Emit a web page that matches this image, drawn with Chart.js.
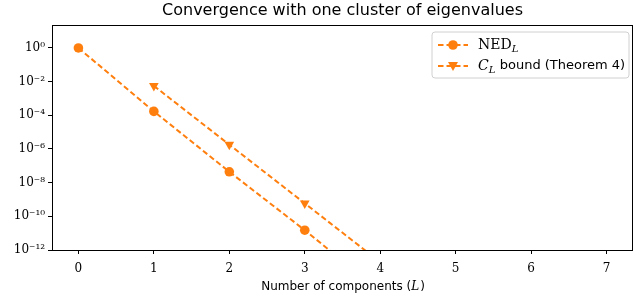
<!DOCTYPE html>
<html>
<head>
<meta charset="utf-8">
<script src="https://cdn.jsdelivr.net/npm/chart.js@4"></script>
<style>
  body { margin: 0; background: #fff; }
  #wrap { width: 633px; height: 301px; }
</style>
</head>
<body>
<div id="wrap"><canvas id="chart" width="633" height="301"></canvas></div>
<script>
// data (the point at L=4 lies below the plot, only its line shows)
const components = [0, 1, 2, 3, 4];
const nedValues = [1.0, 1.7e-4, 4.4e-8, 1.5e-11, 3.5e-15];
const boundL = [1, 2, 3, 4];
const boundValues = [5.6e-3, 1.8e-6, 5.9e-10, 1.9e-13];
const xTicks = [0, 1, 2, 3, 4, 5, 6, 7];
const yExponents = [0, -2, -4, -6, -8, -10, -12];

const orange = '#ff7f0e';
const dash = [5.5, 3];
const sup = { '0': '⁰', '1': '¹', '2': '²', '4': '⁴', '6': '⁶', '8': '⁸', '-': '⁻' };
function powLabel(e) {
  return '10' + String(e).split('').map(c => sup[c]).join('');
}

const nedPoints = components.map((x, i) => ({ x: x, y: nedValues[i] }));
const boundPoints = boundL.map((x, i) => ({ x: x, y: boundValues[i] }));

// frame, title, x label and legend drawn like matplotlib
const decor = {
  id: 'decor',
  afterDraw(chart) {
    const c = chart.ctx;
    const a = chart.chartArea;
    c.save();
    c.strokeStyle = '#000';
    c.lineWidth = 1;
    c.strokeRect(Math.round(a.left) + 0.5, Math.round(a.top) + 0.5,
      Math.round(a.right - a.left) - 1, Math.round(a.bottom - a.top));

    const mid = (a.left + a.right) / 2;
    c.fillStyle = '#000';
    c.font = '16px "DejaVu Sans"';
    c.textAlign = 'center';
    c.textBaseline = 'middle';
    c.fillText('Convergence with one cluster of eigenvalues', mid, 11);

    // x axis label with italic L
    c.font = '12px "DejaVu Sans"';
    const p1 = 'Number of components (';
    const w1 = c.measureText(p1).width;
    const w3 = c.measureText(')').width;
    c.font = 'italic 12px "DejaVu Serif"';
    const w2 = c.measureText('L').width;
    let x0 = mid - (w1 + w2 + w3) / 2;
    c.textAlign = 'left';
    c.font = '12px "DejaVu Sans"';
    c.fillText(p1, x0, 287);
    c.font = 'italic 12px "DejaVu Serif"';
    c.fillText('L', x0 + w1, 287);
    c.font = '12px "DejaVu Sans"';
    c.fillText(')', x0 + w1 + w2 + 1, 287);

    // legend box
    const bx = 432, by = 32, bw = 197, bh = 46, r = 3;
    c.beginPath();
    c.moveTo(bx + r, by);
    c.arcTo(bx + bw, by, bx + bw, by + bh, r);
    c.arcTo(bx + bw, by + bh, bx, by + bh, r);
    c.arcTo(bx, by + bh, bx, by, r);
    c.arcTo(bx, by, bx + bw, by, r);
    c.closePath();
    c.fillStyle = 'rgba(255,255,255,0.8)';
    c.fill();
    c.strokeStyle = '#d0d0d0';
    c.stroke();

    const rows = [45, 66];
    rows.forEach((y, i) => {
      c.strokeStyle = orange;
      c.lineWidth = 2;
      c.setLineDash(dash);
      c.beginPath();
      c.moveTo(438, y);
      c.lineTo(468, y);
      c.stroke();
      c.setLineDash([]);
      c.fillStyle = orange;
      c.beginPath();
      if (i === 0) {
        c.arc(453, y, 4.8, 0, Math.PI * 2);
      } else {
        c.moveTo(448, y - 4);
        c.lineTo(458, y - 4);
        c.lineTo(453, y + 5);
        c.closePath();
      }
      c.fill();
    });

    c.fillStyle = '#000';
    c.textAlign = 'left';
    c.textBaseline = 'middle';
    c.font = '14px "DejaVu Serif"';
    c.fillText('NED', 478, rows[0]);
    let w = c.measureText('NED').width;
    c.font = 'italic 10px "DejaVu Serif"';
    c.fillText('L', 478 + w, rows[0] + 4);

    c.font = 'italic 14px "DejaVu Serif"';
    c.fillText('C', 478, rows[1]);
    w = c.measureText('C').width;
    c.font = 'italic 10px "DejaVu Serif"';
    c.fillText('L', 478 + w, rows[1] + 4);
    c.font = '13px "DejaVu Sans"';
    c.fillText('bound (Theorem 4)', 478 + w + 11, rows[1]);
    c.restore();
  }
};

new Chart(document.getElementById('chart').getContext('2d'), {
  type: 'line',
  data: {
    datasets: [
      {
        label: 'NED_L',
        data: nedPoints,
        borderColor: orange,
        backgroundColor: orange,
        borderWidth: 2,
        borderDash: dash,
        pointStyle: 'circle',
        pointRadius: 4.8,
        pointBorderWidth: 0,
        fill: false
      },
      {
        label: 'C_L bound (Theorem 4)',
        data: boundPoints,
        borderColor: orange,
        backgroundColor: orange,
        borderWidth: 2,
        borderDash: dash,
        pointStyle: 'triangle',
        rotation: 180,
        pointRadius: 5.6,
        pointBorderWidth: 0,
        fill: false
      }
    ]
  },
  options: {
    responsive: false,
    animation: false,
    layout: { autoPadding: false, padding: { top: 25, right: 0, left: 0, bottom: 0 } },
    plugins: {
      legend: { display: false },
      title: { display: false },
      tooltip: { enabled: false }
    },
    scales: {
      x: {
        type: 'linear',
        min: -0.35,
        max: 7.35,
        afterBuildTicks: s => { s.ticks = xTicks.map(v => ({ value: v })); },
        afterFit: s => { s.height = 51; s.paddingLeft = 0; s.paddingRight = 0; },
        grid: { drawOnChartArea: false, drawTicks: true, tickLength: 4, color: '#000' },
        border: { display: false },
        ticks: {
          color: '#000',
          padding: 8,
          maxRotation: 0,
          font: { family: 'DejaVu Serif', size: 12 },
          callback: v => String(v)
        }
      },
      y: {
        type: 'logarithmic',
        min: 1e-12,
        max: 23,
        afterBuildTicks: s => { s.ticks = yExponents.map(e => ({ value: Math.pow(10, e) })); },
        afterFit: s => { s.width = 52; s.paddingTop = 0; s.paddingBottom = 0; },
        grid: { drawOnChartArea: false, drawTicks: true, tickLength: 4, color: '#000' },
        border: { display: false },
        ticks: {
          color: '#000',
          padding: 3,
          font: { family: 'DejaVu Serif', size: 12 },
          callback: v => powLabel(Math.round(Math.log10(v)))
        }
      }
    }
  },
  plugins: [decor]
});
</script>
</body>
</html>
